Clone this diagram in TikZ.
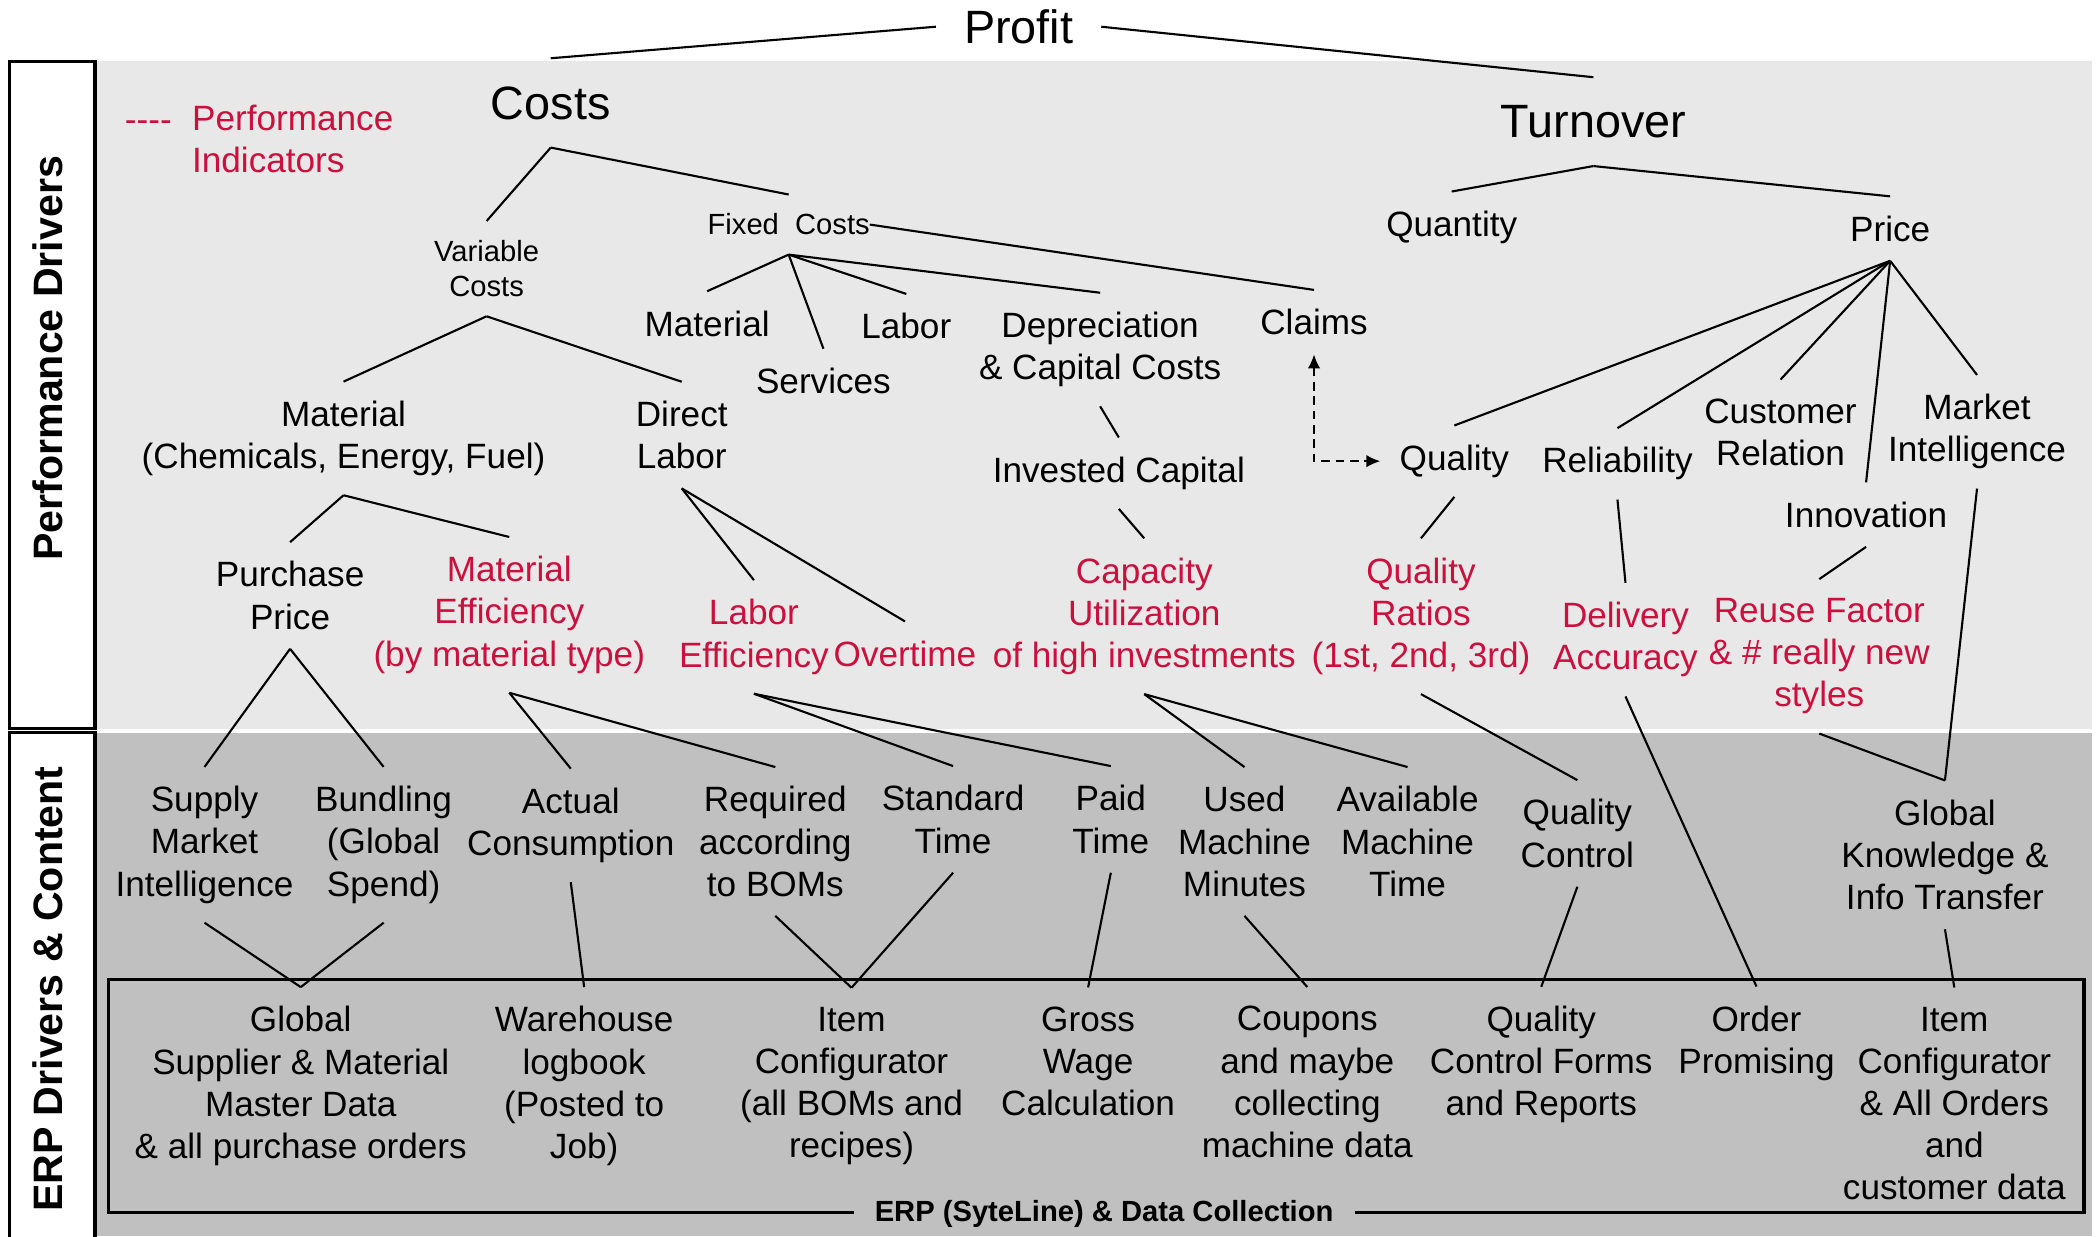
\documentclass[tikz,border=0pt]{standalone}
\usepackage{fontspec}
\setmainfont{Liberation Sans}
\usetikzlibrary{arrows.meta}
\definecolor{kpired}{RGB}{204,16,62}
\definecolor{lightband}{RGB}{232,232,232}
\definecolor{darkband}{RGB}{192,192,192}
\tikzset{
  txt/.style={align=center, inner sep=0pt, outer sep=5.5pt, font=\fontsize{10}{12}\selectfont},
  kpi/.style={txt, text=kpired},
  small/.style={txt, outer xsep=0pt, font=\fontsize{8.3}{10}\selectfont},
  big/.style={txt, outer sep=8pt, font=\fontsize{13.3}{16}\selectfont},
  bandlabel/.style={rotate=90, inner sep=0pt, font=\bfseries\fontsize{11.7}{13}\selectfont},
  every edge/.style={draw, line width=0.6pt},
}

\begin{document}
\begin{tikzpicture}[x=0.13367mm, y=-0.13367mm]
    \useasboundingbox (0,0) rectangle (1568,925);

    % bands
    \fill[lightband] (71,46) rectangle (1565,545);
    \fill[darkband] (71,548) rectangle (1565,925);
    \draw[line width=1pt, fill=white] (7,46) rectangle (71,545);
    \draw[line width=1pt, fill=white] (7,548) rectangle (71,935);
    \node[bandlabel] (pdlabel) at (36,268) {Performance Drivers};
    \node[bandlabel] (erplabel) at (36,740) {ERP Drivers \& Content};

    % ERP frame
    \draw[line width=0.9pt] (81,733) rectangle (1559,907);
    \node[font=\bfseries\fontsize{8.3}{10}\selectfont, fill=darkband, inner xsep=6pt, inner ysep=1pt] (erptitle) at (826,908) {ERP (SyteLine) \& Data Collection};

    % legend
    \node[kpi, anchor=base] (legenddash) at (111,98.5) {-{}-{}-{}-};
    \node[kpi, align=left] (legend) at (219,104) {Performance\\Indicators};

    % top levels
    \node[big] (profit) at (762,20) {Profit};
    \node[big] (costs) at (412,77) {Costs};
    \node[big] (turnover) at (1192,91) {Turnover};

    \node[small] (varcosts) at (364,201) {Variable\\Costs};
    \node[small] (fixedcosts) at (590,168) {Fixed\ \ Costs};
    \node[txt] (material) at (529,242) {Material};
    \node[txt] (services) at (616,285) {Services};
    \node[txt] (labor) at (678,244) {Labor};
    \node[txt] (deprec) at (823,261.5) {Depreciation\\\& Capital Costs};
    \node[txt] (claims) at (983,241) {Claims};
    \node[txt] (quantity) at (1086,170) {Quantity};
    \node[txt] (price) at (1414,171) {Price};

    \node[txt] (matchem) at (257,328) {Material\\(Chemicals, Energy, Fuel)};
    \node[txt] (directlabor) at (510,325.5) {Direct\\Labor};
    \node[txt] (invested) at (837,354) {Invested Capital};
    \node[txt] (quality) at (1088,345) {Quality};
    \node[txt] (reliability) at (1210,347) {Reliability};
    \node[txt] (customer) at (1332,323.5) {Customer\\Relation};
    \node[txt] (market) at (1479,323) {Market\\Intelligence};
    \node[txt] (innovation) at (1396,385) {Innovation};

    \node[txt] (purchase) at (217,445.5) {Purchase\\Price};
    \node[kpi] (mateff) at (381,460) {Material\\Efficiency\\(by material type)};
    \node[kpi] (laboreff) at (564,476.5) {Labor\\Efficiency};
    \node[kpi] (overtime) at (677,489) {Overtime};
    \node[kpi] (capacity) at (856,461) {Capacity\\Utilization\\of high investments};
    \node[kpi] (ratios) at (1063,461) {Quality\\Ratios\\(1st, 2nd, 3rd)};
    \node[kpi] (delivery) at (1216,478.5) {Delivery\\Accuracy};
    \node[kpi] (reuse) at (1361,491) {Reuse Factor\\\& \# really new\\styles};

    % ERP drivers
    \node[txt] (supply) at (153,632) {Supply\\Market\\Intelligence};
    \node[txt] (bundling) at (287,632) {Bundling\\(Global\\Spend)};
    \node[txt] (actual) at (427,617.5) {Actual\\Consumption};
    \node[txt] (required) at (580,629.5) {Required\\according\\to BOMs};
    \node[txt] (standard) at (713,613) {Standard\\Time};
    \node[txt] (paid) at (831,613) {Paid\\Time};
    \node[txt] (used) at (931,629.5) {Used\\Machine\\Minutes};
    \node[txt] (available) at (1053,629.5) {Available\\Machine\\Time};
    \node[txt] (qcontrol) at (1180,623.5) {Quality\\Control};
    \node[txt] (knowledge) at (1455,639.5) {Global\\Knowledge \&\\Info Transfer};

    % ERP content
    \node[txt] (supplier) at (225,812.5) {Global\\Supplier \& Material\\Master Data\\\& all purchase orders};
    \node[txt] (warehouse) at (437,812.5) {Warehouse\\logbook\\(Posted to\\Job)};
    \node[txt] (itemconf) at (637,812.5) {Item\\Configurator\\(all BOMs and\\recipes)};
    \node[txt] (gross) at (814,794) {Gross\\Wage\\Calculation};
    \node[txt] (coupons) at (978,809.5) {Coupons\\and maybe\\collecting\\machine data};
    \node[txt] (qcforms) at (1153,796.5) {Quality\\Control Forms\\and Reports};
    \node[txt] (promising) at (1314,780.5) {Order\\Promising};
    \node[txt] (itemall) at (1462,825.5) {Item\\Configurator\\\& All Orders\\and\\customer data};

    \path (profit.west) edge (costs.north)
          (profit.east) edge (turnover.north);
    \path (costs.south) edge (varcosts.north) edge (fixedcosts.north);
    \path (fixedcosts.south) edge (material.north) edge (services.north) edge (labor.north) edge (deprec.north);
    \path (fixedcosts.east) edge (claims.north);
    \path (varcosts.south) edge (matchem.north) edge (directlabor.north);
    \path (matchem.south) edge (purchase.north) edge (mateff.north);
    \path (directlabor.south) edge (laboreff.north) edge (overtime.north);
    \path (deprec.south) edge (invested.north);
    \path (invested.south) edge (capacity.north);
    \path (turnover.south) edge (quantity.north) edge (price.north);
    \path (price.south) edge (quality.north) edge (reliability.north) edge (customer.north) edge (innovation.north) edge (market.north);
    \path (quality.south) edge (ratios.north);
    \path (reliability.south) edge (delivery.north);
    \path (innovation.south) edge (reuse.north);
    \path (knowledge.north) edge (market.south) edge (reuse.south);
    \path (purchase.south) edge (supply.north) edge (bundling.north);
    \path (supplier.north) edge (supply.south) edge (bundling.south);
    \path (mateff.south) edge (actual.north) edge (required.north);
    \path (actual.south) edge (warehouse.north);
    \path (laboreff.south) edge (standard.north) edge (paid.north);
    \path (itemconf.north) edge (required.south) edge (standard.south);
    \path (paid.south) edge (gross.north);
    \path (capacity.south) edge (used.north) edge (available.north);
    \path (used.south) edge (coupons.north);
    \path (ratios.south) edge (qcontrol.north);
    \path (qcontrol.south) edge (qcforms.north);
    \path (delivery.south) edge (promising.north);
    \path (knowledge.south) edge (itemall.north);
    \draw[line width=0.6pt, dash pattern=on 2.5pt off 1.6pt, {Latex[length=4pt,width=3.6pt]}-{Latex[length=4pt,width=3.6pt]}] (claims.south) |- (quality.west);
\end{tikzpicture}
\end{document}
